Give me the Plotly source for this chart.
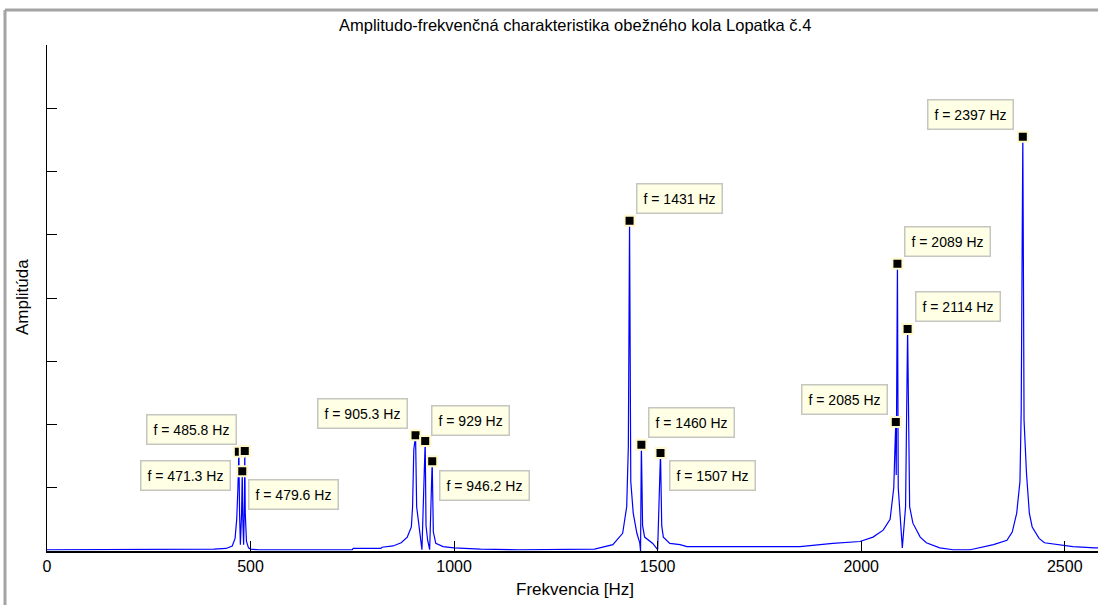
import plotly.graph_objects as go

# ---------------- data ----------------
freq_hz = [0, 200, 405, 410, 440, 455, 462, 466, 469, 471.3, 473, 475, 478, 479.6,
           481, 483, 485, 485.8, 487, 490, 495, 500, 520, 750, 752, 820, 823, 850,
           870, 885, 895, 898, 901, 905.3, 908, 915, 921, 929, 931, 935, 940, 946.2,
           949, 955, 973, 1000, 1065, 1160, 1340, 1345, 1390, 1414, 1424, 1428, 1431,
           1434, 1440, 1449, 1456, 1458, 1460, 1463, 1468, 1488, 1500, 1507, 1510,
           1514, 1530, 1555, 1572, 1700, 1850, 1930, 1997, 2029, 2054, 2071, 2080,
           2083, 2085, 2086, 2087, 2088, 2089, 2091, 2096, 2101, 2109, 2114, 2119,
           2127, 2145, 2160, 2193, 2226, 2268, 2325, 2358, 2371, 2382, 2390, 2393,
           2394.5, 2397, 2399, 2400, 2406, 2413, 2420, 2437, 2450, 2480, 2520, 2574,
           2600]
amplitude = [0.02, 0.02, 0.02, 0.03, 0.04, 0.08, 0.2, 0.5, 1.0, 1.57, 0.6, 0.1, 0.6, 1.26,
             0.5, 0.1, 0.8, 1.58, 0.6, 0.15, 0.05, 0.03, 0.02, 0.02, 0.04, 0.04, 0.06, 0.08,
             0.13, 0.22, 0.38, 0.7, 1.6, 1.83, 0.7, 0.28, 0.02, 1.74, 0.4, 0.17, 0.02, 1.42,
             0.3, 0.12, 0.07, 0.05, 0.03, 0.02, 0.02, 0.03, 0.1, 0.28, 0.7, 1.65, 5.22,
             1.1, 0.6, 0.28, 0.13, 0.0, 1.68, 0.4, 0.22, 0.12, 0.02, 1.55, 0.4,
             0.22, 0.12, 0.1, 0.07, 0.07, 0.07, 0.12, 0.15, 0.22, 0.33, 0.5, 1.0,
             1.65, 2.04, 1.2, 2.6, 1.5, 4.54, 1.0, 0.54, 0.05, 0.7, 3.51, 0.7,
             0.44, 0.22, 0.13, 0.05, 0.02, 0.02, 0.1, 0.17, 0.3, 0.6, 1.1, 2.2,
             3.65, 6.55, 3.7, 2.07, 1.23, 0.6, 0.38, 0.2, 0.13, 0.1, 0.07, 0.05,
             0.05]

peak_freqs = [471.3, 485.8, 479.6, 905.3, 929, 946.2, 1431, 1460, 1507, 2085, 2089, 2114, 2397]
peak_amps = [1.57, 1.58, 1.26, 1.83, 1.74, 1.42, 5.22, 1.68, 1.55, 2.04, 4.54, 3.51, 6.55]
peak_labels = ["f = 471.3 Hz", "f = 485.8 Hz", "f = 479.6 Hz", "f = 905.3 Hz", "f = 929 Hz",
               "f = 946.2 Hz", "f = 1431 Hz", "f = 1460 Hz", "f = 1507 Hz", "f = 2085 Hz",
               "f = 2089 Hz", "f = 2114 Hz", "f = 2397 Hz"]

x_ticks = [0, 500, 1000, 1500, 2000, 2500]
y_ticks = [0, 1, 2, 3, 4, 5, 6, 7, 8]

title_text = "Amplitudo-frekvenčná charakteristika obežného kola Lopatka č.4"
x_title = "Frekvencia [Hz]"
y_title = "Amplitúda"

# ---------------- styling / layout ----------------
# label box offsets (pixels, box centre relative to data point)
label_offsets = [(-53, 24), (-53, -22), (51, 23), (-53, -22), (45, -20), (52, 24),
                 (50, -22), (50, -22), (52, 23), (-51, -22), (50, -22), (50, -22), (-52, -22)]

FONT = "Liberation Sans, Arial, sans-serif"
W, H = 1098, 605
ML, MR, MT, MB = 47, 0, 45, 54

fig = go.Figure()
fig.add_trace(go.Scatter(x=freq_hz, y=amplitude, mode="lines",
                         line=dict(color="#0000ff", width=1.2),
                         hoverinfo="skip", showlegend=False))
fig.add_trace(go.Scatter(x=peak_freqs, y=peak_amps, mode="markers",
                         marker=dict(symbol="square", size=10, color="black",
                                     line=dict(color="#fff8cc", width=2)),
                         hoverinfo="skip", showlegend=False))

annotations = []
for f, a, lab, (dx, dy) in zip(peak_freqs, peak_amps, peak_labels, label_offsets):
    annotations.append(dict(x=f, y=a, xref="x", yref="y", text=lab, showarrow=True,
                            ax=dx, ay=dy, arrowcolor="rgba(0,0,0,0)", arrowwidth=0.1,
                            font=dict(family=FONT, size=14, color="black"),
                            bgcolor="#ffffe6", bordercolor="#c6c6c0", borderwidth=1.5,
                            borderpad=6))

pw = W - ML - MR
ph = H - MT - MB


def px(x):
    return (x - ML) / pw


def py(y):
    return (H - MB - y) / ph


annotations.append(dict(x=px(575), y=py(25), xref="paper", yref="paper", text=title_text,
                        showarrow=False, font=dict(family=FONT, size=16.5, color="black"),
                        xanchor="center", yanchor="middle"))
annotations.append(dict(x=px(575), y=py(589), xref="paper", yref="paper", text=x_title,
                        showarrow=False, font=dict(family=FONT, size=17, color="black"),
                        xanchor="center", yanchor="middle"))
annotations.append(dict(x=px(22), y=py(297), xref="paper", yref="paper", text=y_title,
                        showarrow=False, textangle=-90,
                        font=dict(family=FONT, size=17, color="black"),
                        xanchor="center", yanchor="middle"))

shapes = [
    dict(type="line", xref="paper", yref="paper", x0=px(5), x1=px(1100), y0=py(10), y1=py(10),
         line=dict(color="#a4a4a4", width=3)),
    dict(type="line", xref="paper", yref="paper", x0=px(5), x1=px(5), y0=py(10), y1=py(606),
         line=dict(color="#a4a4a4", width=3)),
]

fig.update_layout(
    width=W, height=H,
    margin=dict(l=ML, r=MR, t=MT, b=MB),
    paper_bgcolor="white", plot_bgcolor="white",
    showlegend=False,
    hovermode=False,
    annotations=annotations,
    shapes=shapes,
    xaxis=dict(range=[0, (W - ML) / 0.4071], tickmode="array", tickvals=x_ticks,
               ticktext=[str(t) for t in x_ticks], ticks="inside", ticklen=10,
               tickcolor="black", tickwidth=1, showgrid=False, zeroline=False,
               showline=True, linecolor="black", linewidth=2,
               tickfont=dict(family=FONT, size=16, color="black")),
    yaxis=dict(range=[0, 8], tickmode="array", tickvals=y_ticks, showticklabels=False,
               ticks="inside", ticklen=10, tickcolor="black", tickwidth=1,
               showgrid=False, zeroline=False, showline=True, linecolor="black",
               linewidth=1),
)

fig.write_html("out.html",
               config={"displayModeBar": False},
               post_script="document.body.style.margin='0';document.body.style.overflow='hidden';")
